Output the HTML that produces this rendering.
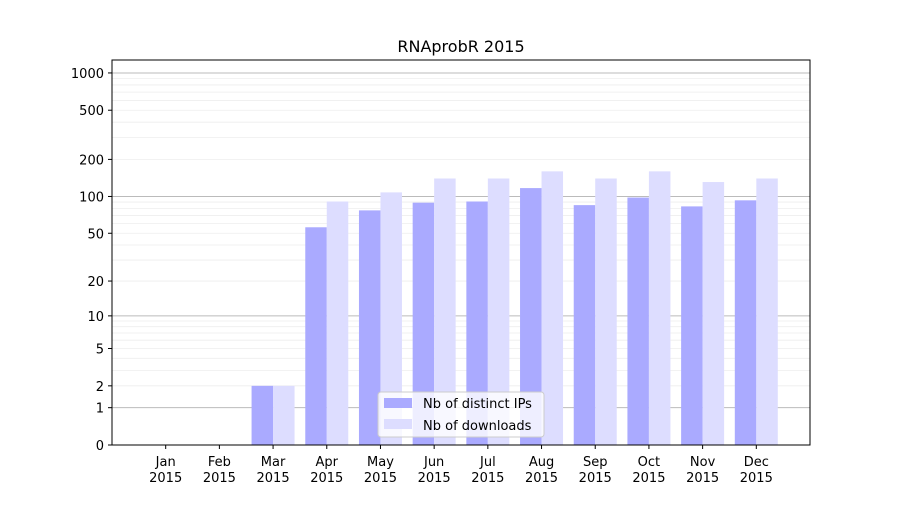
<!DOCTYPE html>
<html><head><meta charset="utf-8"><style>
body{margin:0;background:#fff;font-family:"Liberation Sans","DejaVu Sans",sans-serif}
svg text{font-family:"DejaVu Sans","Liberation Sans",sans-serif}
</style></head><body>
<svg id="chart" width="900" height="500" xmlns="http://www.w3.org/2000/svg">
<rect width="900" height="500" fill="#fff"/>
<text x="461" y="52" font-size="16" text-anchor="middle">RNAprobR 2015</text>
<g id="grid"></g><g id="bars"></g><g id="axes"></g>
<g>
<rect x="378" y="392" width="166" height="45" fill="#fff" fill-opacity="0.8" stroke="#ccc" rx="3"/>
<rect x="384" y="398" width="28" height="10" fill="#aaaaff"/>
<text x="423" y="408" font-size="13">Nb of distinct IPs</text>
<rect x="384" y="419" width="28" height="10" fill="#ddddff"/>
<text x="423" y="430" font-size="13">Nb of downloads</text>
</g>
</svg>
<script>
const categories=["Jan","Feb","Mar","Apr","May","Jun","Jul","Aug","Sep","Oct","Nov","Dec"];
const ips=[0,0,2,56,77,89,91,117,85,98,83,93];
const downloads=[0,0,2,91,108,140,140,160,140,160,131,140];
const yTicks=[0,1,2,5,10,20,50,100,200,500,1000];
const NS="http://www.w3.org/2000/svg";
const L=112,R=810,T=60,B=445;
const step=(R-L)/13;
const xC=i=>L+step*(i+1);
const yS=v=>B-124*Math.log10(1+v);
function mk(t,a,p){const e=document.createElementNS(NS,t);for(const k in a)e.setAttribute(k,a[k]);p.appendChild(e);return e;}
const grid=document.getElementById('grid'),bars=document.getElementById('bars'),axes=document.getElementById('axes');
// minor grid
for(let d=1;d<=1000;d*=10){for(let m=1;m<10;m++){const v=d*m;if(v>1300)break;const y=yS(v);if(y<T)break;
const g=mk('line',{x1:L,x2:R,y1:y,y2:y,stroke:(m===1?'#bbb':'#eee'),'stroke-width':(m===1?1:0.8)},grid);

}}
const bw=21.5;
categories.forEach((c,i)=>{
 const x=xC(i);
 const r1=mk('rect',{x:x-bw,y:yS(ips[i]),width:bw,height:B-yS(ips[i]),fill:'#aaaaff'},bars);
 
 
 const r2=mk('rect',{x:x,y:yS(downloads[i]),width:bw,height:B-yS(downloads[i]),fill:'#ddddff'},bars);
 
 
 const t=mk('text',{x:x,y:B+21,'font-size':13,'text-anchor':'middle'},axes);
 
 
 mk('tspan',{x:x},t).textContent=c;
 mk('tspan',{x:x,dy:16},t).textContent='2015';
 mk('line',{x1:x,x2:x,y1:B,y2:B+4,stroke:'#000'},axes);
});
yTicks.forEach(v=>{const y=yS(v);
 mk('line',{x1:L-4,x2:L,y1:y,y2:y,stroke:'#000'},axes);
 const t=mk('text',{x:L-8,y:y+5,'font-size':13,'text-anchor':'end'},axes);
 
 
 t.textContent=v;});
const f=mk('rect',{x:L,y:T,width:R-L,height:B-T,fill:'none',stroke:'#000','stroke-width':1},axes);


</script>
</body></html>
